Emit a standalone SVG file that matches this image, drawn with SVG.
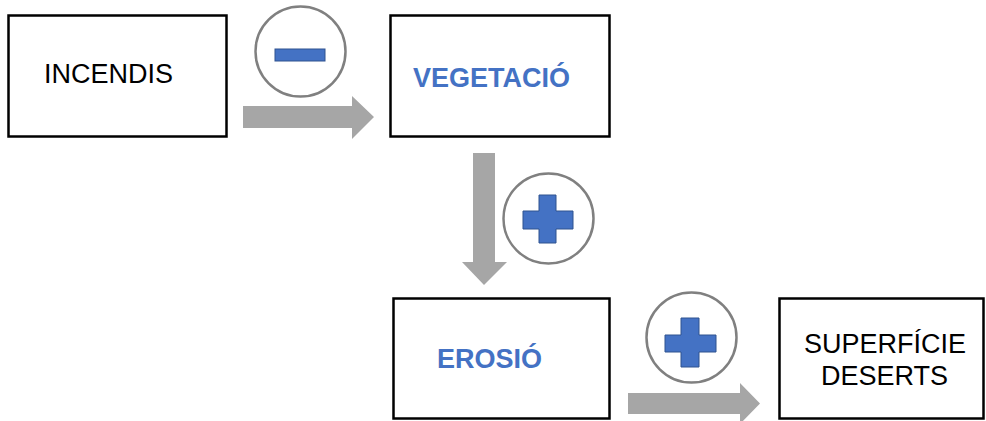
<svg xmlns="http://www.w3.org/2000/svg" width="986" height="421" viewBox="0 0 986 421">
<style>
.box{fill:#fff;stroke:#000;stroke-width:2.5}
.t{font-family:"Liberation Sans",Arial,sans-serif;font-size:27px;fill:#000}
.tb{font-family:"Liberation Sans",Arial,sans-serif;font-size:27px;font-weight:bold;fill:#4472C4}
.arr{fill:#A6A6A6}
.circ{fill:#fff;stroke:#808080;stroke-width:2.5}
.sign{fill:#4472C4;stroke:#2F528F;stroke-width:1}
</style>
<rect width="986" height="421" fill="#fff"/>
<g id="connectors">
<polygon class="arr" points="243,106 352,106 352,96 374,117 352,139 352,128 243,128"/>
<polygon class="arr" points="473,153 495,153 495,262 507,262 484,285 462,262 473,262"/>
<polygon class="arr" points="628,393 740,393 740,383 760,403.5 740,424 740,414 628,414"/>
</g>
<g id="sign-minus">
<circle class="circ" cx="300.5" cy="51.5" r="45"/>
<rect class="sign" x="275" y="49" width="50" height="12"/>
</g>
<g id="sign-plus-1">
<circle class="circ" cx="548.5" cy="218.5" r="45"/>
<polygon class="sign" points="539,195 556,195 556,211 573,211 573,229 556,229 556,243 539,243 539,229 523,229 523,211 539,211"/>
</g>
<g id="sign-plus-2">
<circle class="circ" cx="691.5" cy="337.5" r="45"/>
<polygon class="sign" points="681,318 699,318 699,335 716,335 716,352 699,352 699,367 681,367 681,352 665,352 665,335 681,335"/>
</g>
<g id="node-incendis">
<rect class="box" x="8.5" y="15.5" width="218" height="121"/>
<text class="t" x="44" y="83">INCENDIS</text>
</g>
<g id="node-vegetacio">
<rect class="box" x="390.5" y="15.5" width="219" height="121"/>
<text class="tb" x="413" y="87">VEGETACIÓ</text>
</g>
<g id="node-erosio">
<rect class="box" x="393.5" y="298.5" width="216" height="120"/>
<text class="tb" x="437" y="368">EROSIÓ</text>
</g>
<g id="node-superficie">
<rect class="box" x="779.5" y="298.5" width="204" height="120"/>
<text class="t" x="804" y="353">SUPERFÍCIE</text>
<text class="t" x="821" y="385">DESERTS</text>
</g>
</svg>
